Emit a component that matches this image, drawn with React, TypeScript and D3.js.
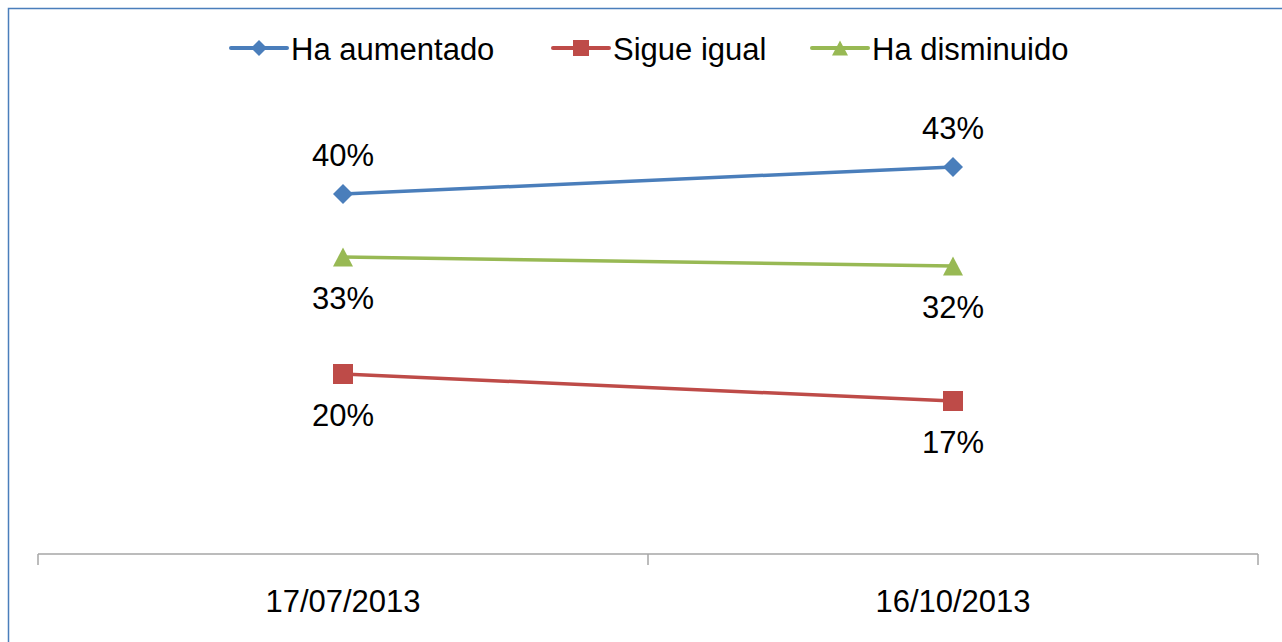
import React from "react";
import * as d3 from "d3";

const categories = ["17/07/2013", "16/10/2013"];
const seriesNames = ["Ha aumentado", "Sigue igual", "Ha disminuido"];
const haAumentado = [40, 43];
const sigueIgual = [20, 17];
const haDisminuido = [33, 32];
const colors = ["#4A7EBB", "#BE4B48", "#98B954"];
const markers = ["diamond", "square", "triangle"];
const labelAbove = [true, false, false];

const W = 1282;
const H = 642;
const FONT = "'Liberation Sans', Arial, sans-serif";

function Marker({ type, x, y, size, color }: { type: string; x: number; y: number; size: number; color: string }) {
  const sym =
    type === "diamond" ? d3.symbolDiamond2 : type === "square" ? d3.symbolSquare2 : d3.symbolTriangle2;
  // symbol size is area-ish; compute for approx width
  let area = size * size;
  if (type === "diamond") area = (size * size) / 2;
  if (type === "triangle") area = (size * size * Math.sqrt(3)) / 4;
  const path = d3.symbol(sym, area)();
  if (type === "square") {
    return <rect x={x - size / 2} y={y - size / 2} width={size} height={size} fill={color} />;
  }
  if (type === "triangle") {
    const h = size * 0.95;
    return (
      <polygon
        points={`${x},${y - h / 2} ${x + size / 2},${y + h / 2} ${x - size / 2},${y + h / 2}`}
        fill={color}
      />
    );
  }
  return (
    <polygon
      points={`${x},${y - size / 2} ${x + size / 2},${y} ${x},${y + size / 2} ${x - size / 2},${y}`}
      fill={color}
      data-path={path || ""}
    />
  );
}

export default function App() {
  const series = [haAumentado, sigueIgual, haDisminuido];
  const x = d3.scaleBand<string>().domain(categories).range([38, 1258]);
  const y = d3.scaleLinear().domain([0, 50]).range([554, 104]);
  const cx = (c: string) => (x(c) as number) + x.bandwidth() / 2;
  const line = d3
    .line<number>()
    .x((_, i) => cx(categories[i]))
    .y((d) => y(d));

  const tickXs = [...categories.map((c) => x(c) as number), 1258];
  const legendX = [231, 553, 812];
  const legendY = 48;

  return (
    <svg
      width={W}
      height={H}
      style={{ position: "absolute", left: 0, top: 0, display: "block", background: "#fff" }}
      fontFamily={FONT}
    >
      <rect x={0} y={0} width={W} height={H} fill="#fff" />
      <rect x={8.5} y={8.5} width={W + 20} height={H + 20} fill="none" stroke="#4A7EBB" strokeWidth={1.5} />

      {/* Legend */}
      {seriesNames.map((name, i) => (
        <g key={name}>
          <line
            x1={legendX[i]}
            x2={legendX[i] + 56}
            y1={legendY}
            y2={legendY}
            stroke={colors[i]}
            strokeWidth={4}
            strokeLinecap="round"
          />
          <Marker type={markers[i]} x={legendX[i] + 28} y={legendY} size={16} color={colors[i]} />
          <text x={legendX[i] + 60} y={60} fontSize={31} fill="#000">
            {name}
          </text>
        </g>
      ))}

      {/* Axis */}
      <line x1={38} x2={1258} y1={554} y2={554} stroke="#A6A6A6" strokeWidth={1.5} />
      {tickXs.map((t, i) => (
        <line key={i} x1={t} x2={t} y1={554} y2={565} stroke="#A6A6A6" strokeWidth={1.5} />
      ))}
      {categories.map((c) => (
        <text key={c} x={cx(c)} y={612} fontSize={31} textAnchor="middle" fill="#000">
          {c}
        </text>
      ))}

      {/* Series */}
      {series.map((vals, i) => (
        <g key={seriesNames[i]}>
          <path d={line(vals) || ""} fill="none" stroke={colors[i]} strokeWidth={3.5} />
          {vals.map((v, j) => (
            <Marker key={j} type={markers[i]} x={cx(categories[j])} y={y(v)} size={20} color={colors[i]} />
          ))}
          {vals.map((v, j) => (
            <text
              key={"l" + j}
              x={cx(categories[j])}
              y={labelAbove[i] ? y(v) - 28 : y(v) + 52}
              fontSize={31}
              textAnchor="middle"
              fill="#000"
            >
              {v}%
            </text>
          ))}
        </g>
      ))}
    </svg>
  );
}
